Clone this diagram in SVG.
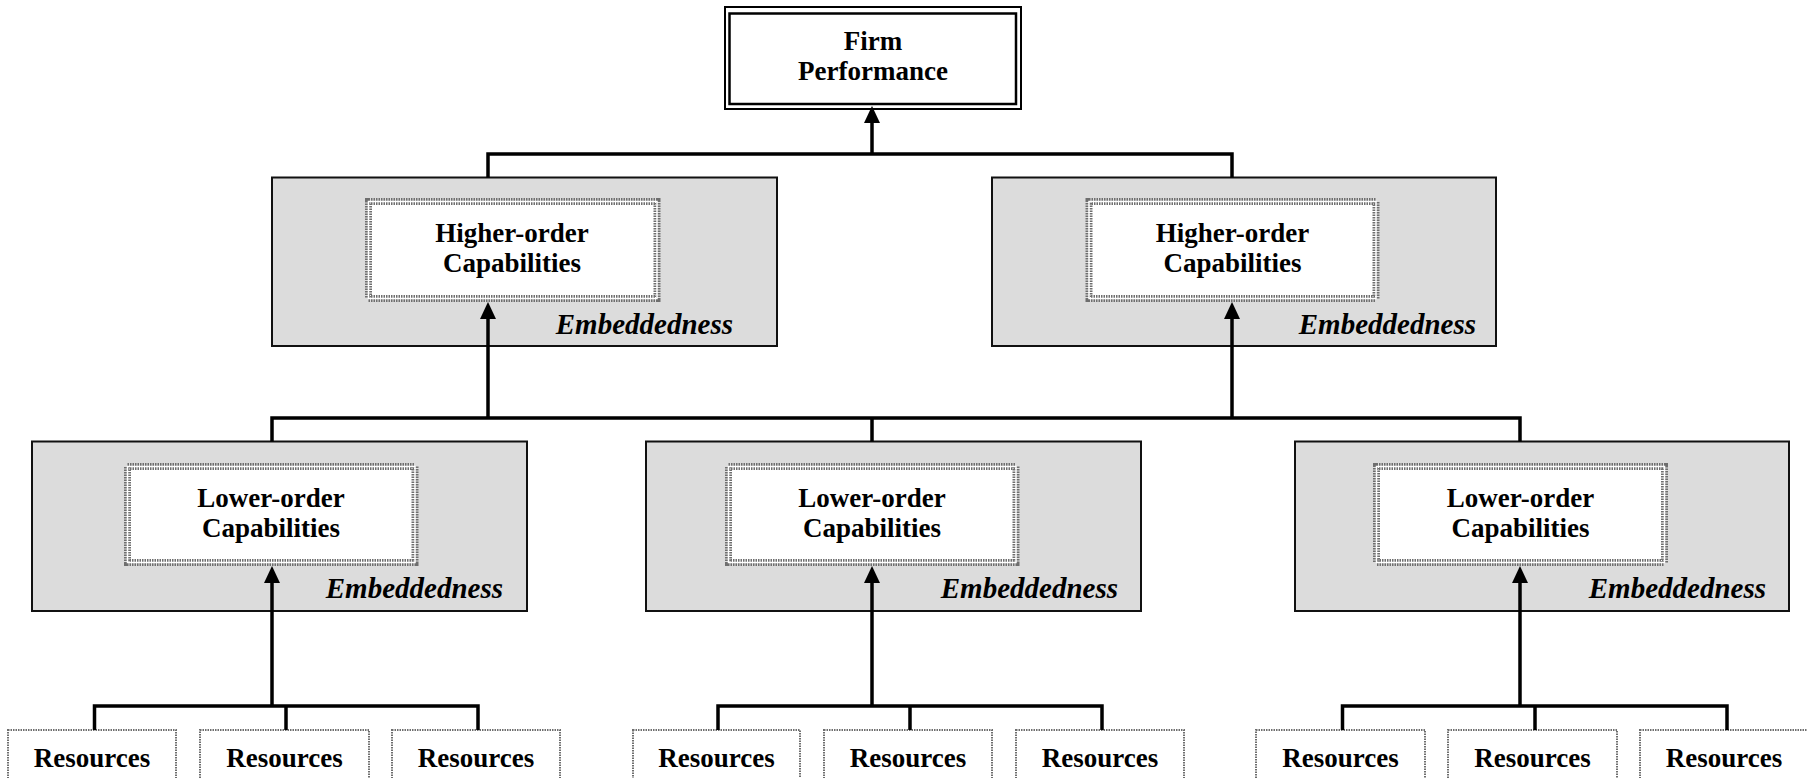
<svg xmlns="http://www.w3.org/2000/svg" width="1807" height="778" viewBox="0 0 1807 778">
<defs>
<style>
.t{font-family:"Liberation Serif","Times New Roman",serif;font-weight:bold;font-size:27px;fill:#000;text-anchor:middle}
.e{font-family:"Liberation Serif","Times New Roman",serif;font-weight:bold;font-style:italic;font-size:29px;fill:#000;text-anchor:end}
.gray{fill:#dcdcdc;stroke:#111;stroke-width:2}
.inA{fill:#fff;stroke:#6e6e6e;stroke-width:7;stroke-dasharray:1.5 1}
.inB{fill:none;stroke:#fff;stroke-width:1.5}
.res{fill:#fff;stroke:#6e6e6e;stroke-width:2;stroke-dasharray:1.5 1}
.ln{fill:none;stroke:#000;stroke-width:3.5}
</style>
<marker id="ah" markerUnits="userSpaceOnUse" markerWidth="17" markerHeight="16" refX="5" refY="8" orient="auto">
<path d="M0,0 L17,8 L0,16 z" fill="#000"/>
</marker>
</defs>
<rect width="1807" height="778" fill="#fff"/>

<g id="firm">
<rect x="725" y="7" width="296" height="102" fill="#fff" stroke="#000" stroke-width="2"/>
<rect x="729.5" y="13.5" width="286.5" height="90.5" fill="none" stroke="#000" stroke-width="2.5"/>
<text class="t" x="873" y="50">Firm</text>
<text class="t" x="873" y="80">Performance</text>
</g>

<g id="higher-left">
<rect class="gray" x="272" y="177.5" width="505" height="168.5"/>
<rect class="inA" x="368.5" y="201.5" width="288.5" height="97"/>
<rect class="inB" x="368.5" y="201.5" width="288.5" height="97"/>
<text class="t" x="512" y="242">Higher-order</text>
<text class="t" x="512" y="272">Capabilities</text>
<text class="e" x="733" y="334">Embeddedness</text>
</g>

<g id="higher-right">
<rect class="gray" x="992" y="177.5" width="504" height="168.5"/>
<rect class="inA" x="1089" y="201.5" width="287" height="97"/>
<rect class="inB" x="1089" y="201.5" width="287" height="97"/>
<text class="t" x="1232.5" y="242">Higher-order</text>
<text class="t" x="1232.5" y="272">Capabilities</text>
<text class="e" x="1476" y="334">Embeddedness</text>
</g>

<g id="lower-left">
<rect class="gray" x="32" y="441.5" width="495" height="169.5"/>
<rect class="inA" x="127.5" y="466.5" width="287.5" height="96"/>
<rect class="inB" x="127.5" y="466.5" width="287.5" height="96"/>
<text class="t" x="271" y="507">Lower-order</text>
<text class="t" x="271" y="537">Capabilities</text>
<text class="e" x="503" y="598">Embeddedness</text>
</g>

<g id="lower-middle">
<rect class="gray" x="646" y="441.5" width="495" height="169.5"/>
<rect class="inA" x="728.5" y="466.5" width="287.5" height="96"/>
<rect class="inB" x="728.5" y="466.5" width="287.5" height="96"/>
<text class="t" x="872" y="507">Lower-order</text>
<text class="t" x="872" y="537">Capabilities</text>
<text class="e" x="1118" y="598">Embeddedness</text>
</g>

<g id="lower-right">
<rect class="gray" x="1295" y="441.5" width="494" height="169.5"/>
<rect class="inA" x="1376.5" y="466.5" width="288" height="96"/>
<rect class="inB" x="1376.5" y="466.5" width="288" height="96"/>
<text class="t" x="1520.5" y="507">Lower-order</text>
<text class="t" x="1520.5" y="537">Capabilities</text>
<text class="e" x="1766" y="598">Embeddedness</text>
</g>

<g id="res-l1"><rect class="res" x="8" y="730" width="168" height="60"/><text class="t" x="92" y="767">Resources</text></g>
<g id="res-l2"><rect class="res" x="200" y="730" width="169" height="60"/><text class="t" x="284.5" y="767">Resources</text></g>
<g id="res-l3"><rect class="res" x="392" y="730" width="168" height="60"/><text class="t" x="476" y="767">Resources</text></g>
<g id="res-m1"><rect class="res" x="633" y="730" width="167" height="60"/><text class="t" x="716.5" y="767">Resources</text></g>
<g id="res-m2"><rect class="res" x="824" y="730" width="168" height="60"/><text class="t" x="908" y="767">Resources</text></g>
<g id="res-m3"><rect class="res" x="1016" y="730" width="168" height="60"/><text class="t" x="1100" y="767">Resources</text></g>
<g id="res-r1"><rect class="res" x="1256" y="730" width="169" height="60"/><text class="t" x="1340.5" y="767">Resources</text></g>
<g id="res-r2"><rect class="res" x="1448" y="730" width="169" height="60"/><text class="t" x="1532.5" y="767">Resources</text></g>
<g id="res-r3"><rect class="res" x="1640" y="730" width="168" height="60"/><text class="t" x="1724" y="767">Resources</text></g>

<g id="connectors">
<path class="ln" d="M488,177.5 V154 H1232 V177.5"/>
<path class="ln" d="M872,154 V118" marker-end="url(#ah)"/>

<path class="ln" d="M272,441.5 V418 H1520 V441.5 M872,418 V441.5"/>
<path class="ln" d="M488,418 V314" marker-end="url(#ah)"/>
<path class="ln" d="M1232,418 V314" marker-end="url(#ah)"/>

<path class="ln" d="M94.5,730 V706 H478 V730 M286,706 V730"/>
<path class="ln" d="M718,730 V706 H1102 V730 M910,706 V730"/>
<path class="ln" d="M1342.5,730 V706 H1727 V730 M1535,706 V730"/>
<path class="ln" d="M272,706 V578" marker-end="url(#ah)"/>
<path class="ln" d="M872,706 V578" marker-end="url(#ah)"/>
<path class="ln" d="M1520,706 V578" marker-end="url(#ah)"/>
</g>
</svg>
